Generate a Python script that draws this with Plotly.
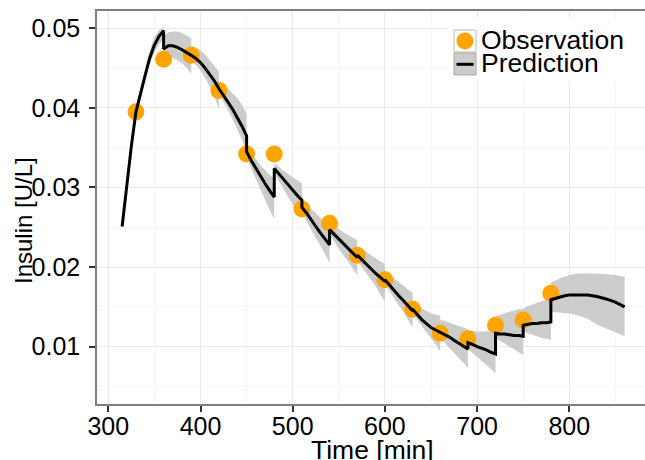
import plotly.graph_objects as go

# ---------------- data ----------------
obs_time = [330, 360, 390, 420, 450, 480, 510, 540, 570, 600, 630, 660, 690, 720, 750, 780]
obs_insulin = [0.0395, 0.0461, 0.0466, 0.0422, 0.0342, 0.0342, 0.0273, 0.0255, 0.0215, 0.0184,
               0.0147, 0.0117, 0.0110, 0.0127, 0.01335, 0.0167]

pred_time = [315, 320, 325, 330, 335, 340, 345, 350, 355, 360,
             360, 365, 370, 375, 380, 385, 390,
             390, 395, 400, 405, 410, 415, 420,
             420, 425, 430, 435, 440, 445, 450,
             450, 455, 460, 465, 470, 475, 480,
             480, 485, 490, 495, 500, 505, 510,
             510, 515, 520, 525, 530, 535, 540,
             540, 545, 550, 555, 560, 565, 570,
             570, 575, 580, 585, 590, 595, 600,
             600, 605, 610, 615, 620, 625, 630,
             630, 635, 640, 645, 650, 655, 660,
             660, 665, 670, 675, 680, 685, 690,
             690, 695, 700, 705, 710, 715, 720,
             720, 725, 730, 735, 740, 745, 750,
             750, 755, 760, 765, 770, 775, 780,
             780, 785, 790, 795, 800, 810, 820, 830, 840, 850, 860]

pred_insulin = [0.0251, 0.0302, 0.0352, 0.0395, 0.0420, 0.0441, 0.0463, 0.0479, 0.0490, 0.0497,
                0.0474, 0.0478, 0.0478, 0.0476, 0.0473, 0.0470, 0.0466,
                0.0466, 0.0462, 0.0457, 0.0450, 0.0442, 0.0434, 0.0424,
                0.0424, 0.0416, 0.0407, 0.0398, 0.0388, 0.0377, 0.0365,
                0.0345, 0.0334, 0.0324, 0.0314, 0.0305, 0.0296, 0.0288,
                0.0324, 0.0317, 0.0310, 0.0303, 0.0296, 0.0290, 0.0284,
                0.0275, 0.0268, 0.0259, 0.0251, 0.0243, 0.0235, 0.0228,
                0.0247, 0.0241, 0.0235, 0.0229, 0.0224, 0.0218, 0.0212,
                0.0215, 0.0209, 0.0204, 0.0198, 0.0192, 0.0187, 0.0182,
                0.0184, 0.0177, 0.0171, 0.0164, 0.0158, 0.0151, 0.0145,
                0.0147, 0.0140, 0.0134, 0.0129, 0.0124, 0.0121, 0.0118,
                0.0119, 0.0115, 0.0112, 0.0108, 0.0104, 0.0100, 0.0097,
                0.0105, 0.0103, 0.0100, 0.0098, 0.0096, 0.0093, 0.0091,
                0.0117, 0.0116, 0.0116, 0.0115, 0.0114, 0.0114, 0.0113,
                0.0127, 0.0128, 0.0129, 0.0129, 0.0130, 0.0130, 0.0131,
                0.0159, 0.0161, 0.0163, 0.0164, 0.0165, 0.0165, 0.0165, 0.0163, 0.0160, 0.0156, 0.0150]

pred_upper = [0.0253, 0.0305, 0.0357, 0.0401, 0.0427, 0.0449, 0.0472, 0.0489, 0.0498, 0.0500,
              0.0490, 0.0495, 0.0496, 0.0496, 0.0494, 0.0491, 0.0487,
              0.0478, 0.0476, 0.0472, 0.0467, 0.0460, 0.0453, 0.0445,
              0.0432, 0.0428, 0.0424, 0.0418, 0.0412, 0.0404, 0.0393,
              0.0352, 0.0344, 0.0336, 0.0328, 0.0322, 0.0316, 0.0311,
              0.0331, 0.0326, 0.0321, 0.0317, 0.0313, 0.0309, 0.0305,
              0.0284, 0.0279, 0.0273, 0.0268, 0.0262, 0.0256, 0.0251,
              0.0256, 0.0252, 0.0248, 0.0244, 0.0240, 0.0237, 0.0234,
              0.0225, 0.0222, 0.0219, 0.0215, 0.0211, 0.0207, 0.0204,
              0.0196, 0.0191, 0.0186, 0.0181, 0.0177, 0.0172, 0.0168,
              0.0157, 0.0152, 0.0148, 0.0145, 0.0142, 0.0140, 0.0139,
              0.0134, 0.0132, 0.0130, 0.0128, 0.0126, 0.0124, 0.0122,
              0.0120, 0.0120, 0.0119, 0.0119, 0.0119, 0.0119, 0.0119,
              0.0138, 0.0140, 0.0142, 0.0144, 0.0145, 0.0147, 0.0148,
              0.0148, 0.0151, 0.0153, 0.0155, 0.0157, 0.0159, 0.0161,
              0.0180, 0.0183, 0.0186, 0.0188, 0.0190, 0.0192, 0.0192, 0.0192, 0.0191, 0.0190, 0.0188]

pred_lower = [0.0249, 0.0299, 0.0348, 0.0390, 0.0414, 0.0434, 0.0455, 0.0470, 0.0480, 0.0486,
              0.0466, 0.0466, 0.0463, 0.0460, 0.0456, 0.0450, 0.0443,
              0.0460, 0.0454, 0.0447, 0.0438, 0.0427, 0.0414, 0.0398,
              0.0418, 0.0408, 0.0397, 0.0385, 0.0373, 0.0360, 0.0346,
              0.0338, 0.0324, 0.0311, 0.0298, 0.0285, 0.0272, 0.0260,
              0.0318, 0.0308, 0.0298, 0.0288, 0.0279, 0.0270, 0.0262,
              0.0270, 0.0258, 0.0247, 0.0237, 0.0227, 0.0216, 0.0205,
              0.0240, 0.0232, 0.0223, 0.0215, 0.0207, 0.0199, 0.0190,
              0.0209, 0.0200, 0.0192, 0.0184, 0.0176, 0.0166, 0.0156,
              0.0179, 0.0170, 0.0161, 0.0152, 0.0144, 0.0134, 0.0124,
              0.0142, 0.0134, 0.0126, 0.0118, 0.0111, 0.0103, 0.0094,
              0.0112, 0.0105, 0.0098, 0.0092, 0.0086, 0.0080, 0.0073,
              0.0097, 0.0092, 0.0087, 0.0082, 0.0077, 0.0072, 0.0067,
              0.0111, 0.0107, 0.0104, 0.0100, 0.0097, 0.0093, 0.0090,
              0.0120, 0.0117, 0.0115, 0.0113, 0.0111, 0.0110, 0.0108,
              0.0144, 0.0143, 0.0143, 0.0142, 0.0142, 0.0139, 0.0135, 0.0128, 0.0123, 0.0118, 0.0113]

x_ticks = [300, 400, 500, 600, 700, 800]
y_ticks = [0.01, 0.02, 0.03, 0.04, 0.05]
y_tick_labels = ["0.01", "0.02", "0.03", "0.04", "0.05"]
legend_labels = ["Observation", "Prediction"]

# ---------------- styling ----------------
FONT = "Liberation Sans, Arial, sans-serif"
BAND = "#CCCCCC"
ORANGE = "#FFA500"
W, H = 645, 460
L, R, T, B = 97, 0, 11, 56
PW, PH = W - L - R, H - T - B


def px(xp):
    return (xp - L) / PW


def py(yp):
    return (H - B - yp) / PH


fig = go.Figure()

# split prediction into intervals at repeated time points
segments = []
start = 0
for i in range(1, len(pred_time)):
    if pred_time[i] == pred_time[i - 1]:
        segments.append((start, i))
        start = i
segments.append((start, len(pred_time)))

for s, e in segments:
    t = pred_time[s:e]
    up = pred_upper[s:e]
    lo = pred_lower[s:e]
    fig.add_trace(go.Scatter(
        x=t + t[::-1], y=up + lo[::-1], fill="toself", fillcolor=BAND,
        mode="none", line=dict(width=0), hoverinfo="skip", showlegend=False))

fig.add_trace(go.Scatter(
    x=obs_time, y=obs_insulin, mode="markers",
    marker=dict(color=ORANGE, size=17, line=dict(width=0)),
    name=legend_labels[0], showlegend=False))

fig.add_trace(go.Scatter(
    x=pred_time, y=pred_insulin, mode="lines",
    line=dict(color="black", width=3), name=legend_labels[1], showlegend=False))

axis_common = dict(
    showgrid=True, gridcolor="#EBEBEB", gridwidth=1,
    minor=dict(showgrid=True, gridcolor="#F6F6F6", gridwidth=1, ticks=""),
    ticks="outside", ticklen=6, tickwidth=1.5, tickcolor="#333333",
    tickfont=dict(family=FONT, size=25, color="black"),
    showline=True, linecolor="#7F7F7F", linewidth=1.5, zeroline=False,
)

fig.update_xaxes(range=[287.74, 287.74 + PW / 0.922], tickvals=x_ticks,
                 minor_dtick=50, mirror=True, ticklabelstandoff=-7, **axis_common)
fig.update_yaxes(range=[0.00280, 0.00280 + PH / 7960.0], tickvals=y_ticks,
                 ticktext=y_tick_labels, minor_dtick=0.005, mirror=False,
                 ticklabelstandoff=4, **axis_common)

shapes = [
    # legend background
    dict(type="rect", xref="paper", yref="paper", x0=px(448), x1=px(660), y0=py(18), y1=py(82),
         fillcolor="white", line=dict(width=0), layer="above"),
    # observation key
    dict(type="rect", xref="paper", yref="paper", x0=px(454), x1=px(476), y0=py(30), y1=py(52),
         fillcolor="white", line=dict(color="#BBBBBB", width=1), layer="above"),
    dict(type="circle", xref="paper", yref="paper", x0=px(456.5), x1=px(473.5), y0=py(32.5), y1=py(49.5),
         fillcolor=ORANGE, line=dict(width=0), layer="above"),
    # prediction key
    dict(type="rect", xref="paper", yref="paper", x0=px(454), x1=px(476), y0=py(53), y1=py(75),
         fillcolor=BAND, line=dict(color="#AAAAAA", width=1), layer="above"),
    dict(type="line", xref="paper", yref="paper", x0=px(456.5), x1=px(473.5), y0=py(64.3), y1=py(64.3),
         line=dict(color="black", width=3), layer="above"),
]

annotations = [
    dict(text=legend_labels[0], xref="paper", yref="paper", x=px(479), y=py(40),
         xanchor="left", yanchor="middle", showarrow=False,
         font=dict(family=FONT, size=26.5, color="black")),
    dict(text=legend_labels[1], xref="paper", yref="paper", x=px(479), y=py(63.5),
         xanchor="left", yanchor="middle", showarrow=False,
         font=dict(family=FONT, size=26.5, color="black")),
    dict(text="Time [min]", xref="paper", yref="paper", x=px(372.5), y=py(450),
         xanchor="center", yanchor="middle", showarrow=False,
         font=dict(family=FONT, size=26.5, color="black")),
    dict(text="Insulin [U/L]", xref="paper", yref="paper", x=px(23), y=py(221),
         xanchor="center", yanchor="middle", showarrow=False, textangle=-90,
         font=dict(family=FONT, size=24, color="black")),
]

fig.update_layout(
    width=W, height=H,
    margin=dict(l=L, r=R, t=T, b=B, pad=0),
    paper_bgcolor="white", plot_bgcolor="white",
    showlegend=False,
    shapes=shapes, annotations=annotations,
    font=dict(family=FONT, size=25, color="black"),
)

fig.write_html("out.html")
